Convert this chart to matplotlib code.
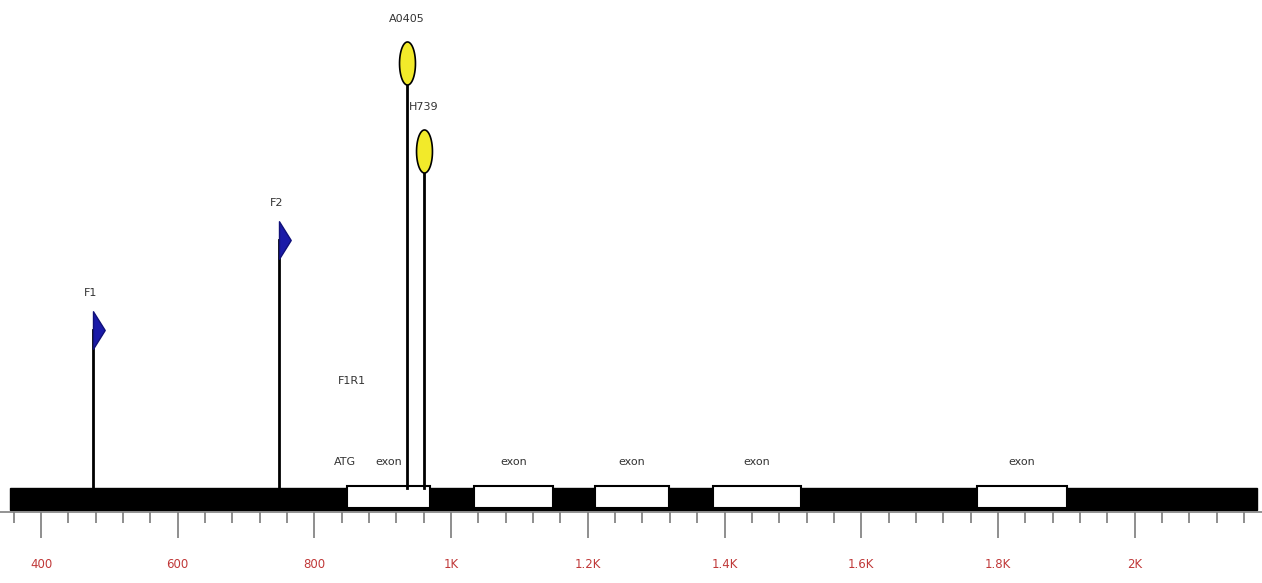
import numpy as np
import matplotlib.pyplot as plt
from matplotlib.path import Path
from matplotlib.patches import Rectangle

# sequence span (bp)
gene_start, gene_end = 355, 2179
exon_starts = [848, 1033, 1210, 1383, 1769]
exon_ends = [969, 1149, 1319, 1512, 1901]

# primers (flags) and SNPs (ellipses)
flag_names = ['F1', 'F2']
flag_pos = [476, 748]
snp_names = ['A0405', 'H739']
snp_pos = [935, 960]

tick_vals = [400, 600, 800, 1000, 1200, 1400, 1600, 1800, 2000]
tick_text = ['400', '600', '800', '1K', '1.2K', '1.4K', '1.6K', '1.8K', '2K']

fam = ['Liberation Sans Narrow', 'DejaVu Sans']
txt_color = '#333333'

fig = plt.figure(figsize=(12.62, 5.83), dpi=100)
# axis area: y in pixels from the top of the figure
ax = fig.add_axes([0, 71 / 583, 1, 512 / 583])
ax.set_xlim(340, 2186.4)
ax.set_ylim(512, 0)
for s in ['top', 'left', 'right']:
    ax.spines[s].set_visible(False)
ax.spines['bottom'].set_color('#808080')
ax.spines['bottom'].set_linewidth(1.2)
ax.set_yticks([])

ax.set_xticks(tick_vals)
ax.set_xticklabels(tick_text, color='#c03838', fontsize=8.5, family=fam)
ax.set_xticks(np.arange(360, 2180, 40), minor=True)
ax.tick_params(axis='x', which='major', length=19, width=1.1, color='#707070', pad=14)
ax.tick_params(axis='x', which='minor', length=8, width=1.1, color='#707070')

# backbone
ax.add_patch(Rectangle((gene_start, 488), gene_end - gene_start, 22, color='black', zorder=2))

# exons
for a, b in zip(exon_starts, exon_ends):
    ax.add_patch(Rectangle((a, 486), b - a, 22, facecolor='white', edgecolor='black',
                           linewidth=1.5, zorder=3))
    ax.text((a + b) / 2, 462, 'exon', ha='center', va='center', fontsize=8,
            color=txt_color, family=fam)

# flag markers
flag_marker = Path([(0, -1.6), (0, 1.6), (1, 0), (0, -1.6)],
                   [Path.MOVETO, Path.LINETO, Path.LINETO, Path.CLOSEPOLY])
flag_y = [330, 240]
for name, x, y in zip(flag_names, flag_pos, flag_y):
    ax.plot([x, x], [488, y], color='black', lw=2, zorder=4)
    ax.plot(x, y, marker=flag_marker, markersize=27, color='#1a1aa8',
            markeredgecolor='#10107a', zorder=5)
    ax.text(x - 3, y - 37, name, ha='center', va='center', fontsize=8,
            color=txt_color, family=fam)

# SNP markers
t = np.linspace(0, 2 * np.pi, 60)
ell_marker = Path(np.column_stack([0.37 * np.cos(t), np.sin(t)]))
snp_y = [63, 151]
for name, x, y in zip(snp_names, snp_pos, snp_y):
    ax.plot([x, x], [488, y + 21], color='black', lw=2, zorder=4)
    ax.plot(x, y, marker=ell_marker, markersize=31, color='#f2ea2a',
            markeredgecolor='black', markeredgewidth=1.2, zorder=5)
    ax.text(x, y - 44, name, ha='center', va='center', fontsize=8,
            color=txt_color, family=fam)

ax.text(855, 381, 'F1R1', ha='center', va='center', fontsize=8, color=txt_color, family=fam)
ax.text(845, 462, 'ATG', ha='center', va='center', fontsize=8, color=txt_color, family=fam)

fig.savefig('out.png', dpi=100)
